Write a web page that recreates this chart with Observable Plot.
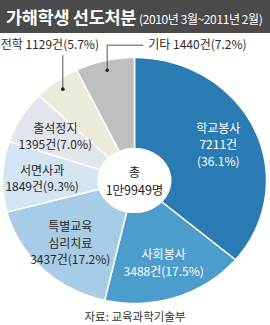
<!DOCTYPE html>
<html><head><meta charset="utf-8">
<script src="https://cdn.jsdelivr.net/npm/d3@7"></script>
<script src="https://cdn.jsdelivr.net/npm/@observablehq/plot@0.6"></script>
<style>
body{margin:0;background:#fff;font-family:"Noto Sans CJK KR","Noto Sans",sans-serif;}
#wrap{width:270px;height:325px;overflow:hidden;}
#title{height:33px;background:#4a4a4a;color:#fff;padding-left:6px;box-sizing:border-box;white-space:nowrap;line-height:33px;}
#title .main{font-size:17.5px;font-weight:bold;letter-spacing:-0.3px;}
#title .sub{font-size:12px;margin-left:3px;letter-spacing:-0.4px;}
#chart svg{display:block;}
#caption{height:18px;text-align:center;font-size:11.5px;color:#333;line-height:18px;}
</style></head>
<body>
<div id="wrap">
<div id="title"><span class="main">가해학생 선도처분</span><span class="sub">(2010년 3월~2011년 2월)</span></div>
<div id="chart"></div>
<div id="caption">자료: 교육과학기술부</div>
</div>
<script>
const categories = ["학교봉사", "사회봉사", "특별교육 심리치료", "서면사과", "출석정지", "전학", "기타"];
const counts = [7211, 3488, 3437, 1849, 1395, 1129, 1440];
const percents = [36.1, 17.5, 17.2, 9.3, 7.0, 5.7, 7.2];
const colors = ["#2a7bb3", "#4d9dcc", "#a8cce6", "#d3e5f2", "#e2e5ea", "#eceadb", "#bfbfbf"];

const total = d3.sum(counts);
const outside = ["전학", "기타"];

let acc = 0;
const slices = [];
const mids = [];
categories.forEach((c, i) => {
  const a0 = acc / total * 2 * Math.PI;
  acc += counts[i];
  const a1 = acc / total * 2 * Math.PI;
  const n = Math.max(2, Math.ceil((a1 - a0) / (Math.PI / 180)));
  slices.push({cat: c, x: 0, y: 0});
  for (let k = 0; k <= n; k++) {
    const a = a0 + (a1 - a0) * k / n;
    slices.push({cat: c, x: Math.sin(a), y: Math.cos(a)});
  }
  slices.push({cat: c, x: 0, y: 0});
  mids.push({cat: c, i, a: (a0 + a1) / 2});
});

const inner = d3.range(0, 361, 3).map(deg => {
  const a = deg * Math.PI / 180;
  return {x: 0.28 * Math.sin(a), y: 0.265 * Math.cos(a)};
});

function labelText(d) {
  const name = categories[d.i].replace(" ", "\n");
  const cnt = counts[d.i] + "건";
  const pct = "(" + percents[d.i].toFixed(1) + "%)";
  if (d.i === 0) return name + "\n" + cnt + "\n" + pct;
  if (outside.includes(d.cat)) return name + " " + cnt + pct;
  return name + "\n" + cnt + pct;
}

const R = 0.7, RD = 0.92, rowY = 1.1;
const insideLabels = mids.filter(d => !outside.includes(d.cat)).map(d => ({...d, x: R * Math.sin(d.a), y: R * Math.cos(d.a), text: labelText(d)}));
const outs = mids.filter(d => outside.includes(d.cat)).map(d => ({...d, x: RD * Math.sin(d.a), y: RD * Math.cos(d.a), text: labelText(d)}));

const hook = 0.273;
const leaders = [];
outs.forEach(d => {
  if (d.cat === "기타") {
    leaders.push({x1: d.x, y1: d.y, x2: d.x, y2: rowY});
    leaders.push({x1: d.x, y1: rowY, x2: d.x + hook, y2: rowY});
  } else {
    leaders.push({x1: d.x, y1: d.y, x2: d.x, y2: rowY - 0.08});
  }
});

const chart = Plot.plot({
  width: 270,
  height: 274,
  margin: 0,
  style: {background: "transparent", fontFamily: "'Noto Sans CJK KR', sans-serif"},
  x: {domain: [-1, 1], range: [2, 266], axis: null},
  y: {domain: [-1, 1], range: [270, 24], axis: null},
  color: {domain: categories, range: colors},
  marks: [
    Plot.line(slices, {x: "x", y: "y", z: "cat", fill: "cat", stroke: "white", strokeWidth: 1.5, strokeLinejoin: "round"}),
    Plot.line(inner, {x: "x", y: "y", fill: "white", stroke: "none"}),
    Plot.text([total], {x: () => 0, y: () => 0, text: t => "총\n" + Math.floor(t / 10000) + "만" + (t % 10000) + "명", fontSize: 12.5, lineHeight: 1.4, fill: "#222"}),
    Plot.text(insideLabels.filter(d => d.i < 2), {x: "x", y: "y", text: "text", fill: "white", fontSize: 12, lineHeight: 1.36}),
    Plot.text(insideLabels.filter(d => d.i >= 2), {x: "x", y: "y", text: "text", fill: "#2a2a2a", fontSize: 12, lineHeight: 1.34}),
    Plot.link(leaders, {x1: "x1", y1: "y1", x2: "x2", y2: "y2", stroke: "#555", strokeWidth: 1}),
    Plot.dot(outs, {x: "x", y: "y", r: 1.8, fill: "#222", stroke: "none"}),
    Plot.text(outs.filter(d => d.cat === "기타"), {x: d => d.x + hook, y: () => rowY, text: "text", textAnchor: "start", dx: 5, fill: "#2a2a2a", fontSize: 12}),
    Plot.text(outs.filter(d => d.cat !== "기타"), {x: "x", y: () => rowY, text: "text", dx: -13, fill: "#2a2a2a", fontSize: 12})
  ]
});
document.getElementById("chart").append(chart);
</script>
</body></html>
